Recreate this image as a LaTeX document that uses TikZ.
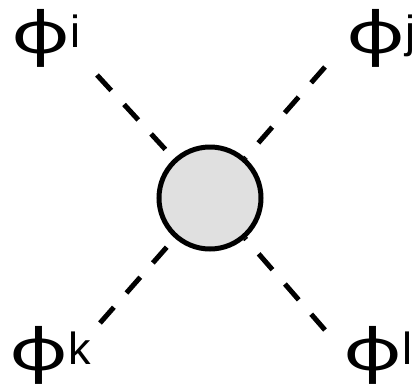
\documentclass[tikz,border=0pt]{standalone}
\usepackage{fontspec}
\setmainfont{Liberation Sans}
\newfontfamily\phifont{Noto Sans}
\newcommand{\bigphi}{\raisebox{-6pt}{\scalebox{1.4}[1]{\phifont\fontsize{58}{58}\selectfont ϕ}}}
\definecolor{blobfill}{RGB}{224,224,224}
\begin{document}
\begin{tikzpicture}[x=1pt,y=-1pt,
  lbl/.style={inner sep=0pt,anchor=base west,font=\fontsize{45}{50}\selectfont},
  leg/.style={line width=5pt,dash pattern=on 21pt off 19pt},
  blob/.style={circle,draw=black,line width=5pt,fill=blobfill,minimum size=102pt,inner sep=0pt}]
\useasboundingbox (0,0) rectangle (413,384);
\node[blob] (v) at (210,198) {};
\coordinate (a) at (97,75);
\coordinate (b) at (325,67);
\coordinate (c) at (100,323);
\coordinate (d) at (325,330);
\draw[leg] (a) -- (v);
\draw[leg] (b) -- (v);
\draw[leg] (c) -- (v);
\draw[leg] (d) -- (v);
\node[lbl] (li) at (11,47) {\bigphi i};
\node[lbl] (lj) at (346,47) {\bigphi j};
\node[lbl] (lk) at (9,364) {\bigphi k};
\node[lbl] (ll) at (343,364) {\bigphi l};
\end{tikzpicture}
\end{document}
